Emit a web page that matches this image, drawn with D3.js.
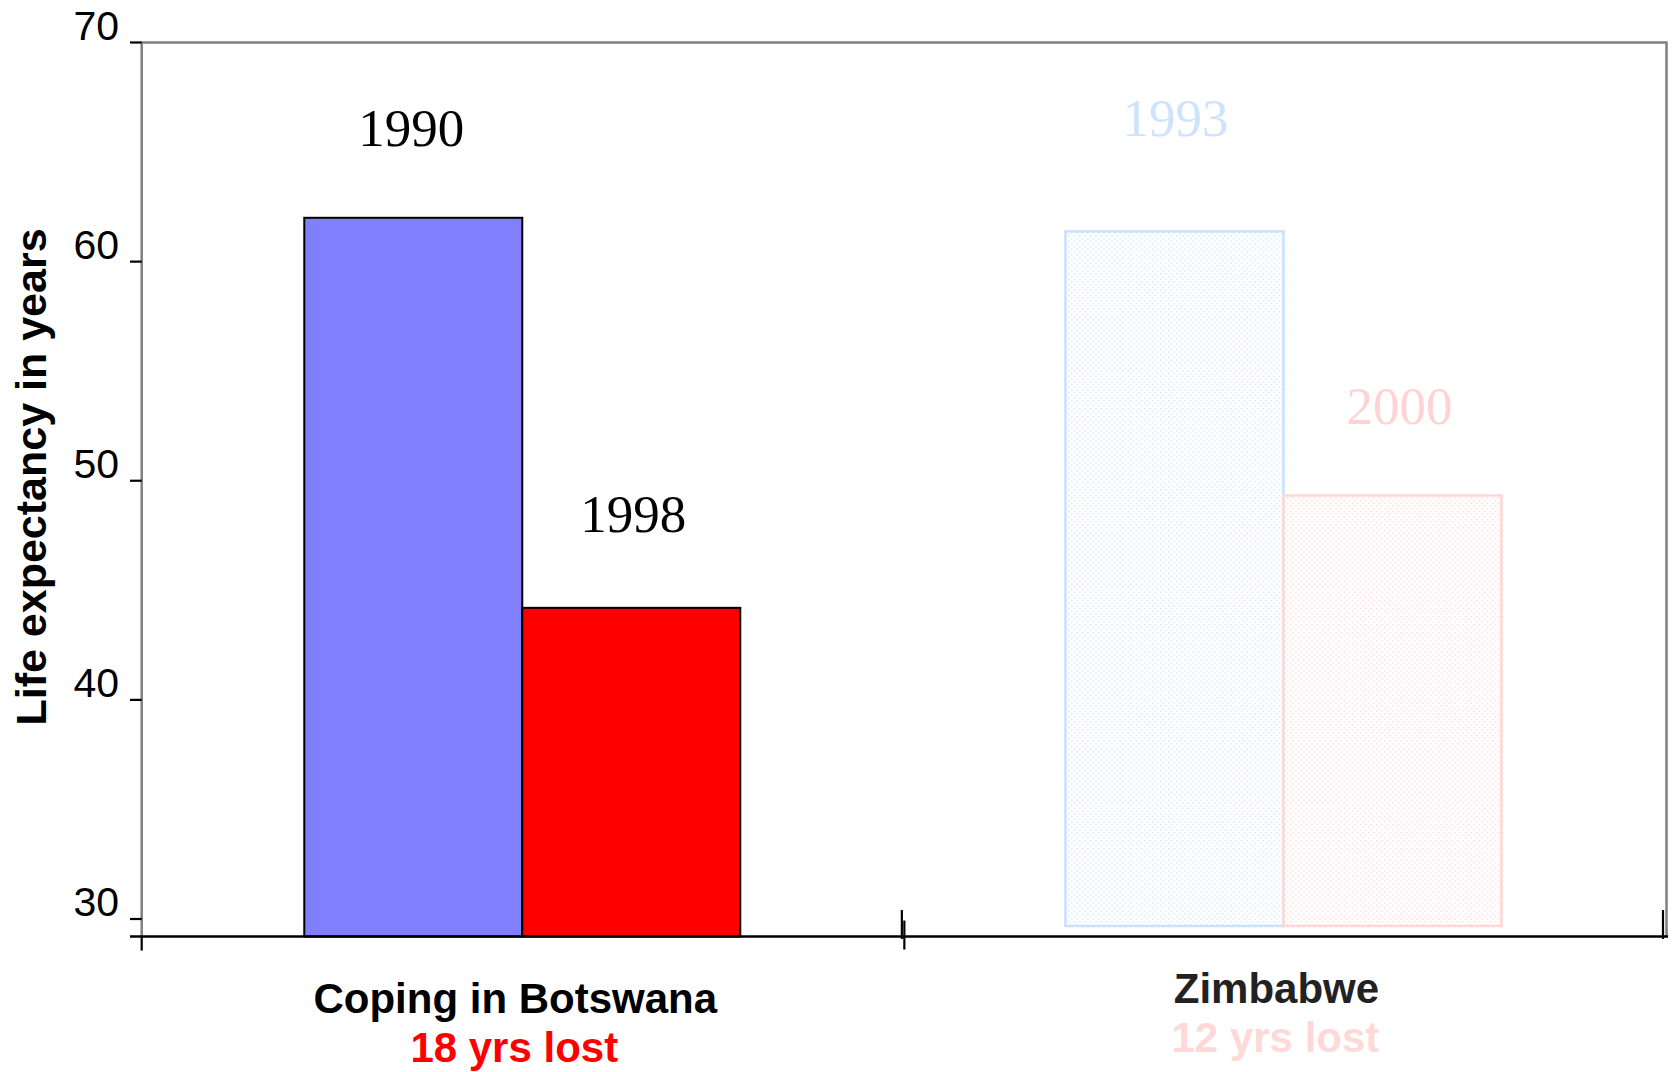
<!DOCTYPE html>
<html>
<head>
<meta charset="utf-8">
<script src="https://cdn.jsdelivr.net/npm/d3@7"></script>
<style>
  body { margin: 0; background: #fff; }
  svg { display: block; }
</style>
</head>
<body>
<div class="container"><svg></svg></div>
<script>
// chart data
var countries = ["Coping in Botswana", "Zimbabwe"];
var lostLabels = ["18 yrs lost", "12 yrs lost"];
var botswanaYears = ["1990", "1998"];
var botswanaValues = [62, 44.2];
var zimbabweYears = ["1993", "2000"];
var zimbabweValues = [60.9, 48.85];
var yTicks = [30, 40, 50, 60, 70];

function draw_chart() {
    var width = 1672, height = 1072;
    var svg = d3.select(".container").select("svg")
        .attr("width", width)
        .attr("height", height);

    var plotLeft = 141.7, plotRight = 1664, plotTop = 42.5;
    var baseValue = 29.2;

    var x = d3.scaleBand()
        .domain(countries)
        .range([plotLeft, plotRight]);

    var y = d3.scaleLinear()
        .domain([30, 70])
        .range([919, plotTop]);

    var inner = d3.scaleBand()
        .domain([0, 1])
        .range([0, 436]);

    var axisY = y(baseValue);

    // frame: grey left, top, right lines
    svg.append("path")
        .attr("d", "M" + plotLeft + "," + axisY + "V" + plotTop + "H1666.5V" + axisY)
        .attr("fill", "none")
        .attr("stroke", "#808080")
        .attr("stroke-width", 2.5);

    // y axis ticks + labels
    var yAxis = svg.append("g");
    yAxis.selectAll("line")
        .data(yTicks)
        .enter().append("line")
        .attr("x1", 130).attr("x2", plotLeft)
        .attr("y1", function (d) { return y(d); })
        .attr("y2", function (d) { return y(d); })
        .attr("stroke", "#000")
        .attr("stroke-width", 2.2);
    yAxis.selectAll("text")
        .data(yTicks)
        .enter().append("text")
        .attr("x", 119)
        .attr("y", function (d) { return y(d) - 3; })
        .attr("text-anchor", "end")
        .attr("font-family", "Liberation Sans, Arial, sans-serif")
        .attr("font-size", 41)
        .attr("fill", "#000")
        .text(function (d) { return d; });

    // y label
    svg.append("text")
        .attr("transform", "translate(46,477) rotate(-90)")
        .attr("text-anchor", "middle")
        .attr("font-family", "Liberation Sans, Arial, sans-serif")
        .attr("font-weight", "bold")
        .attr("font-size", 43)
        .attr("fill", "#000")
        .text("Life expectancy in years");

    // year label offsets above the bar tops (layout only)
    var bLabelDy = [-72, -76];
    var zLabelDy = [-95, -71];
    var bLabelDx = [-2, 2];
    var zLabelDx = [1, 7];
    var groupOffset = (x.bandwidth() - inner.range()[1]) / 2;

    // Botswana bars (solid)
    var bColors = ["#8080ff", "#ff0000"];
    var gB = svg.append("g")
        .attr("transform", "translate(" + (x(countries[0]) + groupOffset) + ",0)");
    gB.selectAll("rect")
        .data(botswanaValues)
        .enter().append("rect")
        .attr("x", function (d, i) { return inner(i); })
        .attr("y", function (d) { return y(d); })
        .attr("width", inner.bandwidth())
        .attr("height", function (d) { return axisY - y(d); })
        .attr("fill", function (d, i) { return bColors[i]; })
        .attr("stroke", "#000")
        .attr("stroke-width", 2);
    gB.selectAll("text")
        .data(botswanaValues)
        .enter().append("text")
        .attr("x", function (d, i) { return inner(i) + inner.bandwidth() / 2 + bLabelDx[i]; })
        .attr("y", function (d, i) { return y(d) + bLabelDy[i]; })
        .attr("text-anchor", "middle")
        .attr("font-family", "Liberation Serif, Times New Roman, serif")
        .attr("font-size", 53)
        .attr("fill", "#000")
        .text(function (d, i) { return botswanaYears[i]; });

    // Zimbabwe layer: faded dotted bars, sitting a little higher
    var defs = svg.append("defs");
    function dots(id, color) {
        var p = defs.append("pattern")
            .attr("id", id)
            .attr("patternUnits", "userSpaceOnUse")
            .attr("width", 5.4).attr("height", 5.4);
        p.append("rect").attr("width", 5.4).attr("height", 5.4).attr("fill", "#fff");
        p.append("rect").attr("x", 0).attr("y", 0).attr("width", 1.6).attr("height", 1.6).attr("fill", color);
        p.append("rect").attr("x", 2.7).attr("y", 2.7).attr("width", 1.6).attr("height", 1.6).attr("fill", color);
    }
    dots("dotBlue", "#d6e9ff");
    dots("dotPink", "#ffdede");

    var zFills = ["url(#dotBlue)", "url(#dotPink)"];
    var zStrokes = ["#c9e1ff", "#ffd6d6"];
    var zText = ["#cfe3fd", "#ffd3d3"];
    var shift = -10.5;

    var gZ = svg.append("g")
        .attr("transform", "translate(" + (x(countries[1]) + groupOffset) + "," + shift + ")");
    gZ.selectAll("rect")
        .data(zimbabweValues)
        .enter().append("rect")
        .attr("x", function (d, i) { return inner(i); })
        .attr("y", function (d) { return y(d); })
        .attr("width", inner.bandwidth())
        .attr("height", function (d) { return axisY - y(d); })
        .attr("fill", function (d, i) { return zFills[i]; })
        .attr("stroke", function (d, i) { return zStrokes[i]; })
        .attr("stroke-width", 2.5);
    gZ.selectAll("text")
        .data(zimbabweValues)
        .enter().append("text")
        .attr("x", function (d, i) { return inner(i) + inner.bandwidth() / 2 + zLabelDx[i]; })
        .attr("y", function (d, i) { return y(d) + zLabelDy[i]; })
        .attr("text-anchor", "middle")
        .attr("font-family", "Liberation Serif, Times New Roman, serif")
        .attr("font-size", 53)
        .attr("fill", function (d, i) { return zText[i]; })
        .text(function (d, i) { return zimbabweYears[i]; });

    // x axis line
    svg.append("line")
        .attr("x1", 130).attr("x2", 1668)
        .attr("y1", axisY).attr("y2", axisY)
        .attr("stroke", "#000")
        .attr("stroke-width", 2.6);

    // x ticks at band edges
    var edges = [x(countries[0]), x(countries[1]), plotRight];
    svg.append("line")
        .attr("x1", edges[0]).attr("x2", edges[0])
        .attr("y1", axisY).attr("y2", axisY + 14)
        .attr("stroke", "#000").attr("stroke-width", 2.2);
    svg.append("line")
        .attr("x1", edges[1] + 1.5).attr("x2", edges[1] + 1.5)
        .attr("y1", axisY - 16).attr("y2", axisY + 13)
        .attr("stroke", "#000").attr("stroke-width", 2.2);
    svg.selectAll(".ztick")
        .data(edges.slice(1))
        .enter().append("line")
        .attr("class", "ztick")
        .attr("x1", function (d) { return d - 1; })
        .attr("x2", function (d) { return d - 1; })
        .attr("y1", axisY - 16 + shift)
        .attr("y2", axisY + 13 + shift)
        .attr("stroke", "#000").attr("stroke-width", 2.2);

    // category labels
    var catColors = ["#000", "#222"];
    var lostColors = ["#ff0000", "#ffd8d8"];
    var catShift = [0, shift];
    svg.selectAll(".cat")
        .data(countries)
        .enter().append("text")
        .attr("class", "cat")
        .attr("x", function (d) { return x(d) + x.bandwidth() / 2 - 7; })
        .attr("y", function (d, i) { return 1013 + catShift[i]; })
        .attr("text-anchor", "middle")
        .attr("font-family", "Liberation Sans, Arial, sans-serif")
        .attr("font-weight", "bold")
        .attr("font-size", 42)
        .attr("fill", function (d, i) { return catColors[i]; })
        .text(function (d) { return d; });
    svg.selectAll(".lost")
        .data(countries)
        .enter().append("text")
        .attr("class", "lost")
        .attr("x", function (d) { return x(d) + x.bandwidth() / 2 - 8; })
        .attr("y", function (d, i) { return 1062 + catShift[i]; })
        .attr("text-anchor", "middle")
        .attr("font-family", "Liberation Sans, Arial, sans-serif")
        .attr("font-weight", "bold")
        .attr("font-size", 42)
        .attr("fill", function (d, i) { return lostColors[i]; })
        .text(function (d, i) { return lostLabels[i]; });
}

draw_chart();
</script>
</body>
</html>
